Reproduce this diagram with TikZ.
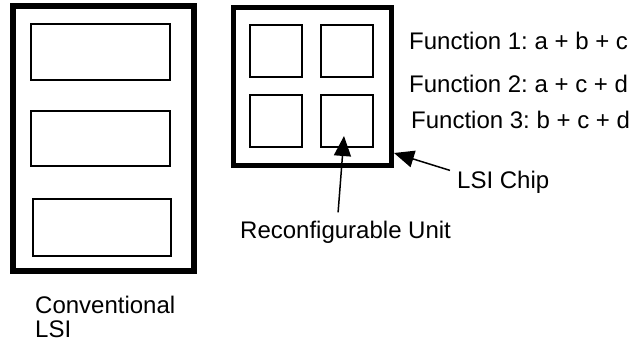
\documentclass[tikz,border=0pt]{standalone}
\usepackage{fontspec}
\setmainfont{Liberation Sans}
\usetikzlibrary{arrows.meta}
\frenchspacing

\begin{document}
\begin{tikzpicture}[x=1pt,y=-1pt,
    chip/.style={draw, line width=5.5pt, inner sep=0pt},
    unit/.style={draw, line width=2pt, inner sep=0pt},
    txt/.style={inner sep=0pt, font=\fontsize{24}{24}\selectfont},
    pointer/.style={line width=1.5pt, -{Triangle[length=20pt,width=17pt]}}]
    \useasboundingbox (0,0) rectangle (641,341);

    %%%%%%%%%% LSI convenzionale %%%%%%%%%%
    \node[chip, minimum width=181pt, minimum height=265pt] (conv) at (103.5,138.5) {};
    \node[unit, minimum width=139pt, minimum height=56pt] (c1) at (100.5,52) {};
    \node[unit, minimum width=139pt, minimum height=55pt] (c2) at (100.5,138.5) {};
    \node[unit, minimum width=138pt, minimum height=57pt] (c3) at (102,227.5) {};
    \node[txt, anchor=north west, align=left] (convlbl) at (35,295.5) {Conventional\\LSI};

    %%%%%%%%%% LSI riconfigurabile %%%%%%%%%%
    \node[chip, line width=5pt, minimum size=158pt] (lsi) at (312,86) {};
    \node[unit, minimum size=52pt] (u1) at (276,51) {};
    \node[unit, minimum size=52pt] (u2) at (346.5,51) {};
    \node[unit, minimum size=52pt] (u3) at (276,120.5) {};
    \node[unit, minimum size=52pt] (u4) at (346.5,120.5) {};

    %%%%%%%%%% Testi %%%%%%%%%%
    \node[txt, anchor=base west] (f1) at (409,49) {Function 1: a + b + c};
    \node[txt, anchor=base west] (f2) at (409,92) {Function 2: a + c + d};
    \node[txt, anchor=base west] (f3) at (411,128) {Function 3: b + c + d};
    \node[txt, anchor=base west] (chiplbl) at (457,188) {LSI Chip};
    \node[txt, anchor=base west] (unitlbl) at (240,238) {Reconfigurable Unit};

    %%%%%%%%%% Frecce %%%%%%%%%%
    \coordinate (unittip) at (344,136);
    \coordinate (chiptip) at (394,153);
    \draw[pointer] (unitlbl.north) ++(-7.5,-8) -- (unittip);
    \draw[pointer] (chiplbl.north west) ++(-7,0) -- (chiptip);
\end{tikzpicture}
\end{document}
